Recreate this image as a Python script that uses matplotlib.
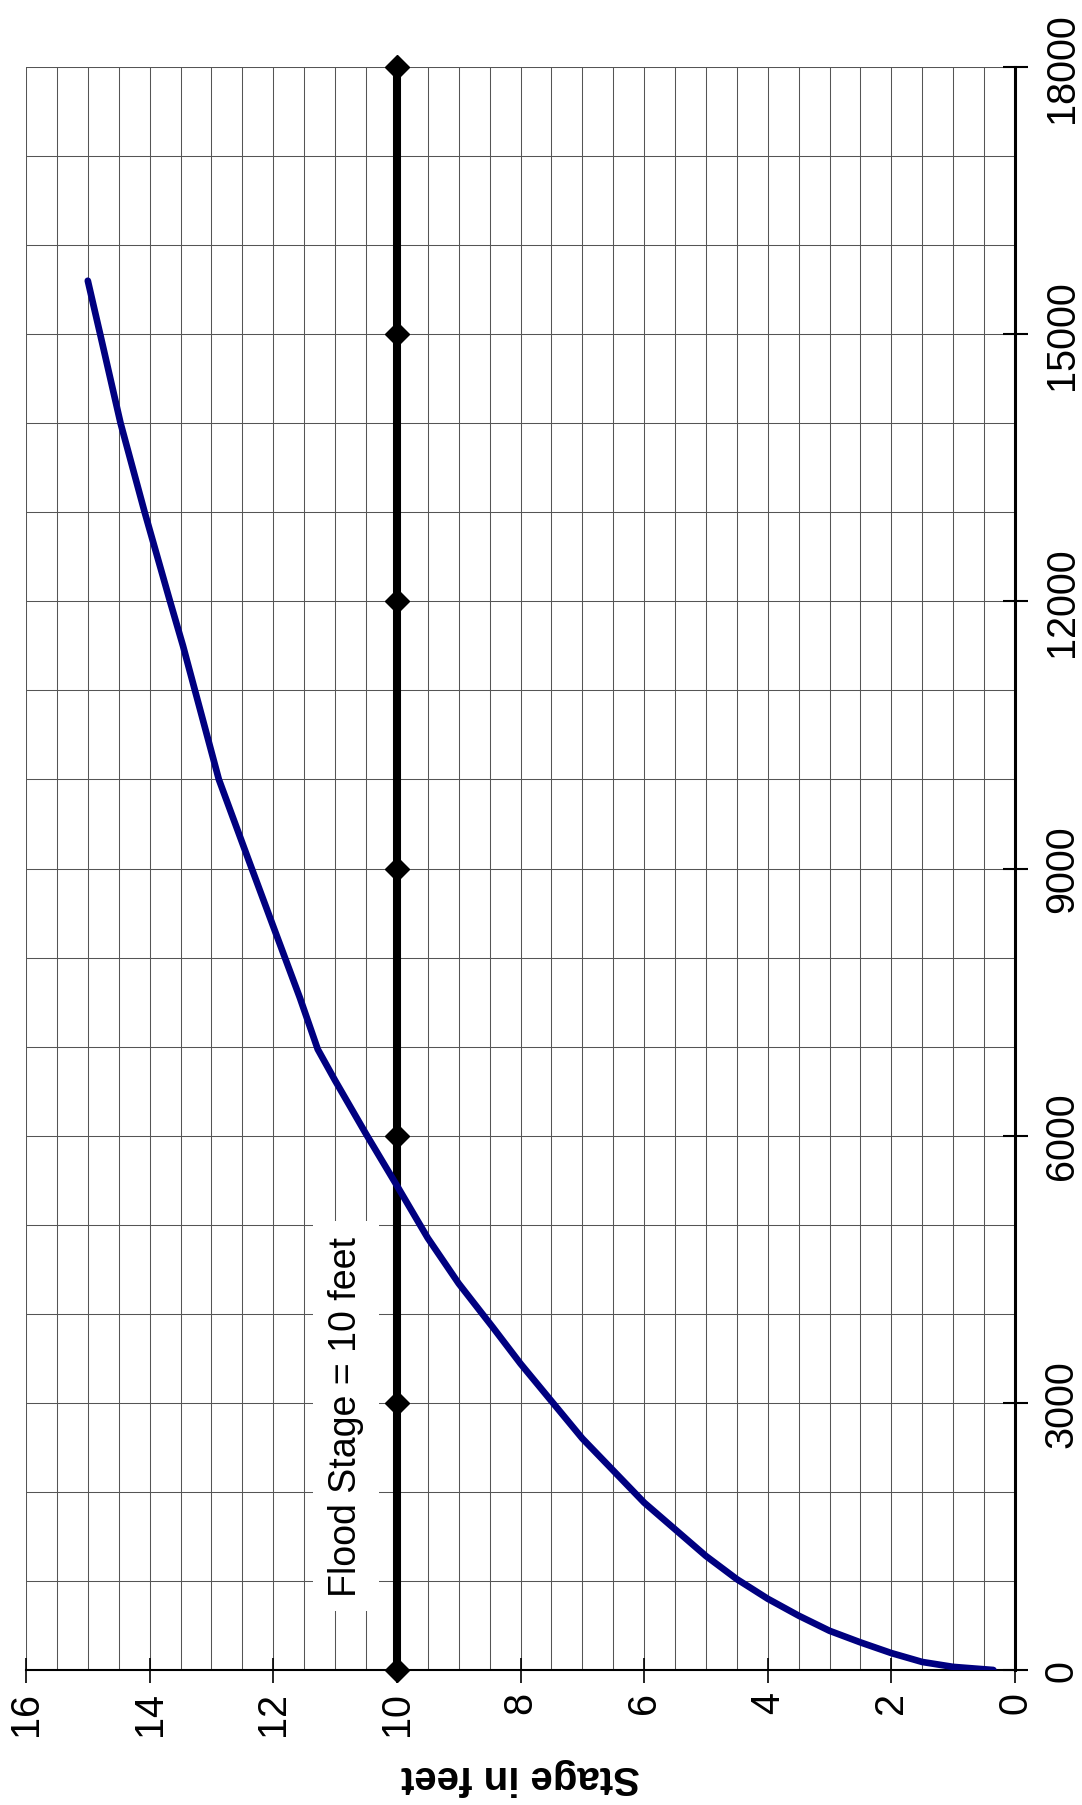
import matplotlib.pyplot as plt
import numpy as np

plt.rcParams['font.family'] = ['Liberation Sans', 'DejaVu Sans']

# rating curve: stage (feet) vs discharge
stage = [0.35, 1.0, 1.5, 2.0, 2.5, 3.0, 3.5, 4.0, 4.5, 5.0, 6.0, 7.0, 8.0,
         8.45, 9.0, 9.5, 10.0, 10.5, 11.0, 11.28, 11.57, 12.0, 12.38, 12.88,
         13.46, 13.67, 14.08, 14.47, 14.8, 15.0]
flow = [0, 35, 90, 190, 310, 440, 610, 800, 1020, 1280, 1880, 2600, 3440,
        3850, 4340, 4850, 5440, 6020, 6620, 6970, 7550, 8350, 9060, 10000,
        11500, 12000, 13000, 14000, 15000, 15600]

# flood stage series (diamonds)
flood_flow = [0, 3000, 6000, 9000, 12000, 15000, 18000]
flood_stage = [10, 10, 10, 10, 10, 10, 10]
flood_text = 'Flood Stage = 10 feet'

stage_ticks = [0, 2, 4, 6, 8, 10, 12, 14, 16]
flow_ticks = [0, 3000, 6000, 9000, 12000, 15000, 18000]

fig = plt.figure(figsize=(10.82, 18.06), dpi=100)
ax = fig.add_axes([26 / 1082, 1 - 1671 / 1806, (1015 - 26) / 1082, (1671 - 68) / 1806])

# chart is turned on its side: stage runs right-to-left, discharge bottom-to-top
ax.set_xlim(16, 0)
ax.set_ylim(0, 18000)

ax.set_xticks(stage_ticks)
ax.set_xticklabels([str(t) for t in stage_ticks])
ax.set_xticks(np.arange(0, 16.5, 0.5), minor=True)
ax.set_yticks(flow_ticks)
ax.set_yticklabels([str(t) for t in flow_ticks])
ax.set_yticks(np.arange(0, 18001, 1000), minor=True)

ax.grid(True, which='both', color='#555555', linewidth=0.75, zorder=0)
ax.set_axisbelow(True)

ax.yaxis.tick_right()
ax.tick_params(axis='x', which='major', direction='inout', length=18, width=1.2,
               labelsize=28.5, labelrotation=90, pad=6, top=False)
ax.tick_params(axis='y', which='major', direction='inout', length=18, width=1.5,
               labelsize=28.5, labelrotation=90, pad=11, left=False, right=True)
ax.tick_params(which='minor', length=0)
for lab in ax.get_yticklabels():
    lab.set_verticalalignment('center')

for side in ['top', 'left']:
    ax.spines[side].set_visible(False)
ax.spines['right'].set_linewidth(2.2)
ax.spines['bottom'].set_linewidth(1.5)

ax.set_xlabel('Stage in feet', fontsize=29, fontweight='bold', rotation=180, labelpad=16)

ax.plot(flood_stage, flood_flow, color='black', linewidth=5.8, marker='D',
        markersize=12, zorder=3, clip_on=False)
ax.plot(stage, flow, color='#000080', linewidth=4.8, solid_capstyle='round',
        solid_joinstyle='round', zorder=4)

ax.text(10.83, 2850, flood_text, rotation=90, fontsize=27, ha='center', va='center',
        bbox=dict(facecolor='white', edgecolor='none', boxstyle='square,pad=0.4'), zorder=2)

fig.savefig('out.png', dpi=100)
